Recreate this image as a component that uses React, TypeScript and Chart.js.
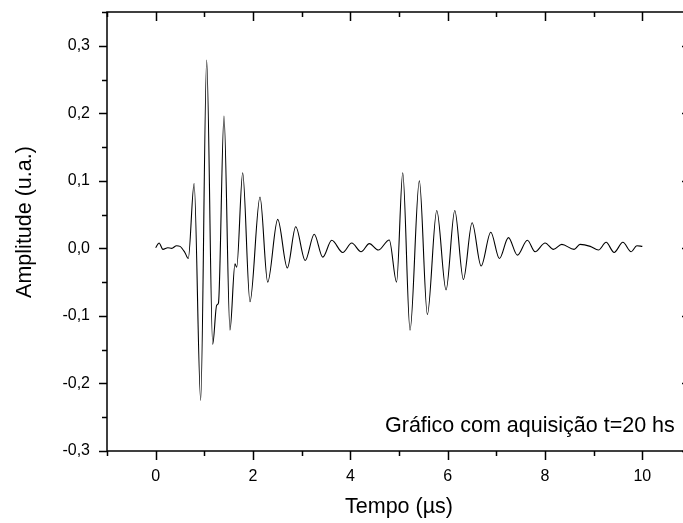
import React, { useEffect, useRef } from "react";
import { Chart, registerables } from "chart.js";

Chart.register(...registerables);

// Time (µs) and amplitude (u.a.)
const TIME = [
  0, 0.07, 0.15, 0.25, 0.33, 0.43, 0.5, 0.6, 0.67,
  0.79, 0.925, 1.048, 1.172, 1.254, 1.29, 1.404, 1.527, 1.63, 1.665,
  1.788, 1.938, 2.144, 2.302, 2.508, 2.705, 2.878, 3.073, 3.258, 3.433,
  3.618, 3.844, 4.029, 4.22, 4.39, 4.575, 4.8, 4.95, 5.077, 5.227,
  5.418, 5.583, 5.776, 5.967, 6.146, 6.323, 6.502, 6.687, 6.886, 7.063,
  7.248, 7.433, 7.638, 7.796, 8.002, 8.173, 8.345, 8.598, 8.72, 8.93,
  9.098, 9.256, 9.42, 9.6, 9.77, 9.887, 10.0,
];
const AMP = [
  0.001, 0.008, -0.0015, 0.001, 0.0, 0.004, 0.003, -0.006, -0.015,
  0.096, -0.225, 0.279, -0.142, -0.084, -0.081, 0.196, -0.121, -0.023, -0.028,
  0.112, -0.079, 0.076, -0.05, 0.043, -0.029, 0.032, -0.018, 0.021, -0.013,
  0.012, -0.006, 0.008, -0.005, 0.007, -0.0025, 0.0125, -0.05, 0.112, -0.121,
  0.1, -0.098, 0.056, -0.0615, 0.056, -0.046, 0.038, -0.026, 0.024, -0.015,
  0.016, -0.01, 0.012, -0.005, 0.008, -0.0015, 0.006, -0.0015, 0.006, 0.003,
  -0.0025, 0.009, -0.006, 0.009, -0.005, 0.004, 0.003,
];

const X_MAJOR = [0, 2, 4, 6, 8, 10];
const X_MINOR = [-1, 1, 3, 5, 7, 9, 11];
const Y_MAJOR = [-0.3, -0.2, -0.1, 0, 0.1, 0.2, 0.3];
const Y_MINOR = [-0.25, -0.15, -0.05, 0.05, 0.15, 0.25, 0.35];

const X_TITLE = "Tempo (\u00b5s)";
const Y_TITLE = "Amplitude (u.a.)";
const NOTE = "Gráfico com aquisição t=20 hs";

const FONT = '"Liberation Sans", Arial, sans-serif';

const framePlugin = {
  id: "frame",
  afterDraw(chart: any) {
    const { ctx, chartArea: a, scales } = chart;
    const x = scales.x;
    const y = scales.y;
    ctx.save();
    ctx.strokeStyle = "#000";
    ctx.lineWidth = 1.5;
    ctx.strokeRect(a.left, a.top, a.right - a.left, a.bottom - a.top);
    ctx.beginPath();
    const xt = (vals: number[], len: number, inLen: number) => {
      for (const v of vals) {
        const px = Math.round(x.getPixelForValue(v)) + 0.5;
        ctx.moveTo(px, a.bottom);
        ctx.lineTo(px, a.bottom + len);
        ctx.moveTo(px, a.top);
        ctx.lineTo(px, a.top + inLen);
      }
    };
    const yt = (vals: number[], len: number, inLen: number) => {
      for (const v of vals) {
        const py = Math.round(y.getPixelForValue(v)) + 0.5;
        ctx.moveTo(a.left, py);
        ctx.lineTo(a.left - len, py);
        ctx.moveTo(a.right, py);
        ctx.lineTo(a.right - inLen, py);
      }
    };
    xt(X_MAJOR, 9, 9);
    xt(X_MINOR, 5, 5);
    yt(Y_MAJOR, 8, 9);
    yt(Y_MINOR, 5, 5);
    ctx.stroke();

    ctx.fillStyle = "#000";
    ctx.font = `21.5px ${FONT}`;
    ctx.textAlign = "left";
    ctx.textBaseline = "alphabetic";
    ctx.fillText(NOTE, 385, 432);

    // y-axis title (rotated), placed like the reference
    ctx.translate(25, 222);
    ctx.rotate(-Math.PI / 2);
    ctx.textAlign = "center";
    ctx.textBaseline = "middle";
    ctx.fillText(Y_TITLE, 0, 0);
    ctx.restore();
  },
};

export default function App() {
  const ref = useRef<HTMLCanvasElement | null>(null);

  useEffect(() => {
    if (!ref.current) return;
    const points = TIME.map((t, i) => ({ x: t, y: AMP[i] }));
    const chart = new Chart(ref.current, {
      type: "line",
      data: {
        datasets: [
          {
            data: points,
            borderColor: "#000",
            borderWidth: 1.1,
            pointRadius: 0,
            fill: false,
            cubicInterpolationMode: "monotone",
          },
        ],
      },
      options: {
        animation: false,
        responsive: false,
        devicePixelRatio: 1,
        layout: { padding: { top: 12, right: 9, left: 0, bottom: 0 } },
        plugins: {
          legend: { display: false },
          tooltip: { enabled: false },
        },
        scales: {
          x: {
            type: "linear",
            min: -1,
            max: 11,
            afterFit: (s: any) => {
              s.height = 72;
              s.paddingLeft = 0;
              s.paddingRight = 0;
            },
            grid: { display: false, drawTicks: false },
            border: { display: false },
            ticks: {
              stepSize: 1,
              padding: 16,
              maxRotation: 0,
              autoSkip: false,
              color: "#000",
              font: { family: FONT, size: 16 },
              callback: (v: any) => {
                const n = Math.round(Number(v));
                return n % 2 === 0 && n >= 0 && n <= 10 ? String(n) : "";
              },
            },
            title: {
              display: true,
              text: X_TITLE,
              color: "#000",
              font: { family: FONT, size: 21.5 },
              padding: { top: 0, bottom: 3 },
            },
          },
          y: {
            type: "linear",
            min: -0.3,
            max: 0.35,
            afterFit: (s: any) => {
              s.width = 107;
              s.paddingTop = 0;
              s.paddingBottom = 0;
            },
            grid: { display: false, drawTicks: false },
            border: { display: false },
            ticks: {
              stepSize: 0.05,
              padding: 17,
              autoSkip: false,
              color: "#000",
              font: { family: FONT, size: 16 },
              callback: (v: any) => {
                const k = Math.round(Number(v) * 100);
                if (k % 10 !== 0 || k > 30) return "";
                return (k / 100).toFixed(1).replace(".", ",");
              },
            },
          },
        },
      },
      plugins: [framePlugin],
    });
    return () => chart.destroy();
  }, []);

  return (
    <div
      style={{
        position: "absolute",
        left: 0,
        top: 0,
        width: 683,
        height: 523,
        overflow: "hidden",
        background: "#fff",
      }}
    >
      <canvas ref={ref} width={700} height={523} style={{ display: "block" }} />
    </div>
  );
}
